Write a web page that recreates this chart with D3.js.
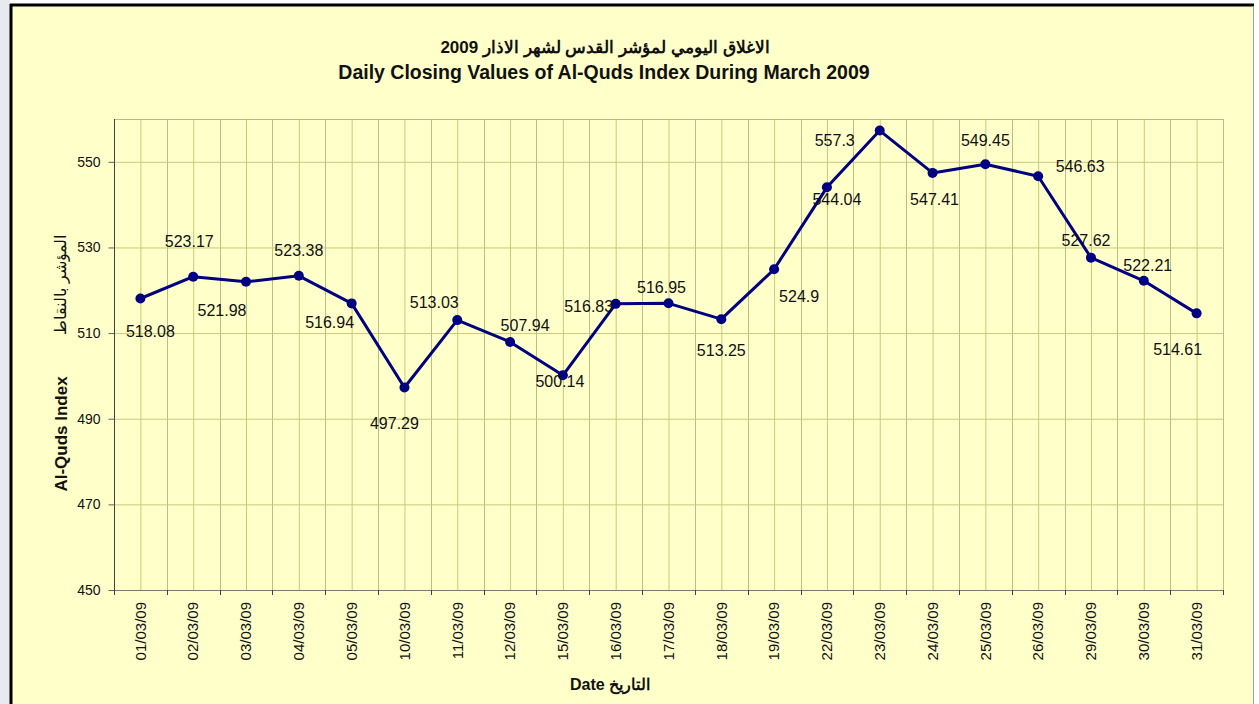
<!DOCTYPE html>
<html>
<head>
<meta charset="utf-8">
<script src="https://cdn.jsdelivr.net/npm/d3@7"></script>
<style>
	body { margin: 0; background: #fff; }
	svg { display: block; }
	text { font-family: Arial, "Liberation Sans", sans-serif; fill: #111; }
</style>
</head>
<body>
<svg id="chart" width="1259" height="704"></svg>
<script>
// DATA
const dates = ['01/03/09', '02/03/09', '03/03/09', '04/03/09', '05/03/09', '10/03/09', '11/03/09',
	'12/03/09', '15/03/09', '16/03/09', '17/03/09', '18/03/09', '19/03/09', '22/03/09', '23/03/09',
	'24/03/09', '25/03/09', '26/03/09', '29/03/09', '30/03/09', '31/03/09']
const closes = [518.08, 523.17, 521.98, 523.38, 516.94, 497.29, 513.03, 507.94, 500.14, 516.83,
	516.95, 513.25, 524.9, 544.04, 557.3, 547.41, 549.45, 546.63, 527.62, 522.21, 514.61]
const yTicks = [450, 470, 490, 510, 530, 550]
const yDomain = [450, 560]

// LABEL PLACEMENT (offset of the label centre from its point, px)
const labelOffsets = [[10, 33], [-4, -35], [-24, 29], [0, -25], [-22, 19], [-10, 36], [-23, -18],
	[15, -17], [-3, 6], [-27, 3], [-7, -16], [0, 31], [25, 27], [10, 12], [-45, 10], [2, 26],
	[0, -24], [42, -10], [-5, -17], [4, -15], [-19, 36]]

const W = 1259, H = 704
const plot = { left: 114, right: 1223, top: 119, bottom: 590 }

const svg = d3.select('svg#chart')

// FRAME
svg.append('rect').attr('x', 0).attr('y', 0).attr('width', 10).attr('height', H).attr('fill', '#e7ebf0')
svg.append('rect').attr('x', 10).attr('y', 4).attr('width', 1244).attr('height', H)
	.attr('fill', '#ffffc9')
svg.append('line').attr('x1', 11).attr('x2', 11).attr('y1', 4).attr('y2', H)
	.attr('stroke', '#000').attr('stroke-width', 3)
svg.append('line').attr('x1', 10).attr('x2', 1254).attr('y1', 5).attr('y2', 5)
	.attr('stroke', '#000').attr('stroke-width', 3)
svg.append('line').attr('x1', 1253.5).attr('x2', 1253.5).attr('y1', 6).attr('y2', H)
	.attr('stroke', '#a0a0a0').attr('stroke-width', 1)

// SCALES
const x = d3.scaleBand().domain(dates).range([plot.left, plot.right]).padding(0)
const y = d3.scaleLinear().domain(yDomain).range([plot.bottom, plot.top])
const cx = d => x(d) + x.bandwidth() / 2

// GRID
const grid = svg.append('g').attr('class', 'grid')
dates.forEach(d => {
	grid.append('line').attr('x1', cx(d) + 0.5).attr('x2', cx(d) + 0.5)
		.attr('y1', plot.top).attr('y2', plot.bottom).attr('stroke', '#c9c97c')
	grid.append('line').attr('x1', Math.round(x(d) + x.bandwidth()) + 0.5).attr('x2', Math.round(x(d) + x.bandwidth()) + 0.5)
		.attr('y1', plot.top).attr('y2', plot.bottom).attr('stroke', '#bdbd86')
})
svg.append('g').attr('transform', `translate(${plot.left},0)`)
	.call(d3.axisLeft(y).tickValues(yTicks.slice(1)).tickSize(-(plot.right - plot.left)).tickFormat(''))
	.call(g => g.select('.domain').remove())
	.call(g => g.selectAll('line').attr('stroke', '#c9c97c'))
svg.append('line').attr('x1', plot.left).attr('x2', plot.right).attr('y1', plot.top + 0.5).attr('y2', plot.top + 0.5)
	.attr('stroke', '#b8b890')

// Y AXIS
svg.append('g').attr('transform', `translate(${plot.left + 0.5},0)`)
	.call(d3.axisLeft(y).tickValues(yTicks).tickSize(6).tickPadding(8).tickSizeOuter(0))
	.call(g => g.select('.domain').attr('stroke', '#404040').attr('d', `M0,${plot.top}V${plot.bottom}`))
	.call(g => g.selectAll('.tick line').attr('stroke', '#606060'))
	.call(g => g.selectAll('text').attr('font-size', 14).attr('fill', '#111')
		.attr('font-family', 'Arial, "Liberation Sans", sans-serif'))

// X AXIS
svg.append('line').attr('x1', plot.left).attr('x2', plot.right).attr('y1', plot.bottom + 0.5).attr('y2', plot.bottom + 0.5)
	.attr('stroke', '#7a7a6a')
;[plot.left, ...dates.map(d => x(d) + x.bandwidth())].forEach(v => {
	svg.append('line').attr('x1', Math.round(v) + 0.5).attr('x2', Math.round(v) + 0.5)
		.attr('y1', plot.bottom).attr('y2', plot.bottom + 5).attr('stroke', '#404040')
})
svg.append('g').selectAll('text').data(dates).join('text')
	.attr('transform', d => `translate(${cx(d)},602) rotate(-90)`)
	.attr('text-anchor', 'end')
	.attr('dy', '0.35em')
	.attr('font-size', 15)
	.text(d => d)

// LINE + MARKERS
const pts = dates.map((d, i) => ({ date: d, value: closes[i], off: labelOffsets[i] }))
svg.append('path').datum(pts)
	.attr('d', d3.line().x(d => cx(d.date)).y(d => y(d.value)))
	.attr('fill', 'none').attr('stroke', '#000080').attr('stroke-width', 3).attr('stroke-linejoin', 'round')
svg.append('g').selectAll('circle').data(pts).join('circle')
	.attr('cx', d => cx(d.date)).attr('cy', d => y(d.value)).attr('r', 5)
	.attr('fill', '#000080')

// DATA LABELS
svg.append('g').selectAll('text').data(pts).join('text')
	.attr('x', d => cx(d.date) + d.off[0])
	.attr('y', d => y(d.value) + d.off[1])
	.attr('text-anchor', 'middle')
	.attr('dy', '0.35em')
	.attr('font-size', 16)
	.text(d => d.value)

// TITLES
svg.append('text').attr('x', 605).attr('y', 53).attr('text-anchor', 'middle')
	.attr('direction', 'rtl').attr('font-size', 17).attr('font-weight', 'bold')
	.text('الاغلاق اليومي لمؤشر القدس  لشهر الاذار 2009')
svg.append('text').attr('x', 604).attr('y', 79).attr('text-anchor', 'middle')
	.attr('font-size', 19.5).attr('font-weight', 'bold')
	.text('Daily Closing Values of Al-Quds Index During March 2009')

svg.append('text').attr('transform', 'translate(67,434) rotate(-90)').attr('text-anchor', 'middle')
	.attr('font-size', 17).attr('font-weight', 'bold').text('Al-Quds Index')
svg.append('text').attr('transform', 'translate(66,285) rotate(-90)').attr('text-anchor', 'middle')
	.attr('font-size', 16).text('المؤشر بالنقاط')

svg.append('text').attr('x', 610).attr('y', 690).attr('text-anchor', 'middle')
	.attr('font-size', 16).attr('font-weight', 'bold').text('Date التاريخ')
</script>
</body>
</html>
